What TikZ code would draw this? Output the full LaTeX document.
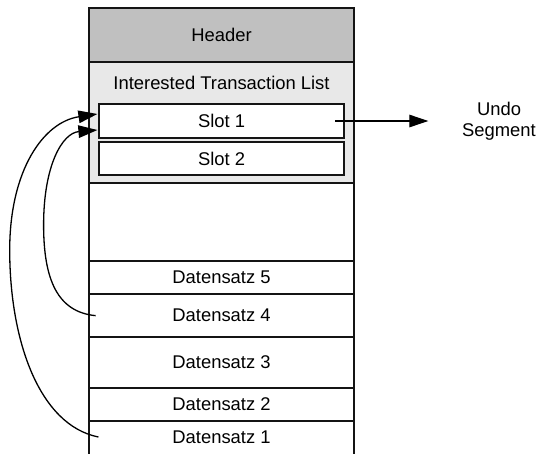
\documentclass[tikz,border=0pt]{standalone}
\usepackage{fontspec}
\setmainfont{Liberation Sans}
\usetikzlibrary{arrows.meta}
\definecolor{hdrgray}{RGB}{192,192,192}
\definecolor{itlgray}{RGB}{232,232,232}
\definecolor{edge}{RGB}{20,20,20}
\begin{document}
\begin{tikzpicture}[x=1pt,y=-1pt,
  every node/.style={font=\fontsize{18.4}{20.5}\selectfont, inner sep=0pt, outer sep=0pt},
  block/.style={draw=edge, line width=2pt, minimum width=265pt},
  slotbox/.style={draw=edge, line width=2pt, fill=white, minimum width=244.6pt},
  link/.style={draw=black, line width=1.3pt, -{Triangle[length=19pt,width=12.5pt]}}]
\useasboundingbox (0,0) rectangle (553,453);

% block layout
\node[block, fill=hdrgray, minimum height=53.4pt] (hdr) at (221.5,35) {Header};
\node[block, fill=itlgray, minimum height=121.6pt] (itl) at (221.5,122.5) {};
\node (itltxt) at (221.5,83.3) {Interested Transaction List};
\node[slotbox, minimum height=33.4pt] (slot1) at (221.6,121) {Slot 1};
\node[slotbox, minimum height=33.3pt] (slot2) at (221.6,158.7) {Slot 2};
\node[block, minimum height=77.7pt] (free) at (221.5,222.15) {};
\node[block, minimum height=33.3pt] (d5) at (221.5,277.65) {Datensatz 5};
\node[block, minimum height=42.7pt] (d4) at (221.5,315.65) {Datensatz 4};
\node[block, minimum height=51pt] (d3) at (221.5,362.5) {Datensatz 3};
\node[block, minimum height=33pt] (d2) at (221.5,404.5) {Datensatz 2};
\node[minimum width=265pt, minimum height=32pt] (d1) at (221.5,437) {Datensatz 1};
\draw[edge, line width=2pt] ([yshift=-6pt]d1.south west) -- (d1.north west)
  -- (d1.north east) -- ([yshift=-6pt]d1.south east);

% pointer to the undo segment
\node[align=center] (undo) at (499,121) {Undo\\Segment};
\coordinate (utip) at (428.3,121);
\draw[link] ([xshift=-8.5pt]slot1.east) -- (utip);

% row directory pointers into slot 1
\draw[link] ([xshift=9.4pt]d1.west) .. controls (38.9,425) and (9.7,340) .. (9.7,250)
  .. controls (9.7,170) and (43.6,122) .. ([xshift=-1.9pt,yshift=7pt]slot1.west);
\draw[link] ([xshift=6.6pt]d4.west) .. controls (57.7,312) and (43.6,280) .. (43.6,225)
  .. controls (43.6,165) and (62.4,133) .. ([xshift=-1.9pt,yshift=-9pt]slot1.west);
\end{tikzpicture}
\end{document}
